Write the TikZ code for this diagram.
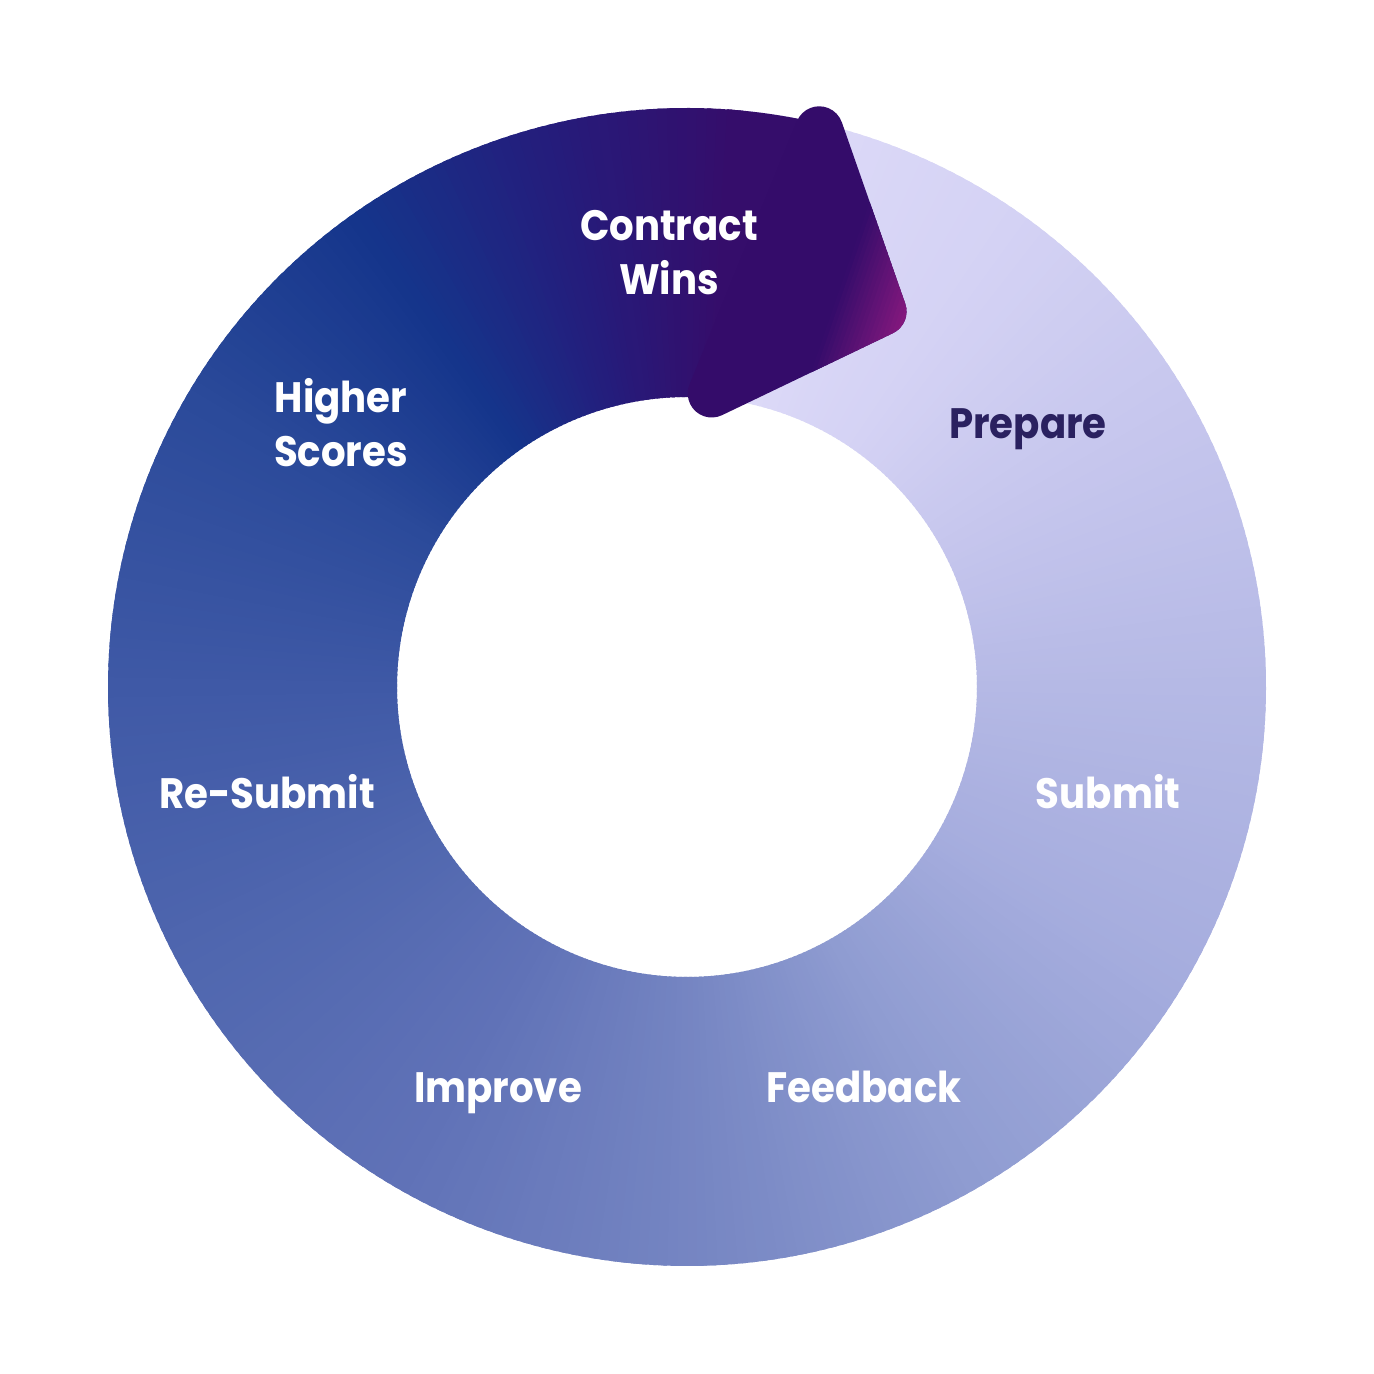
\documentclass[tikz,border=0pt]{standalone}
\usepackage{fontspec}
\setmainfont{Poppins}[FakeStretch=0.91]
\definecolor{s0}{HTML}{DFDCF9}
\definecolor{s1}{HTML}{D4D2F4}
\definecolor{s2}{HTML}{C1C2EB}
\definecolor{s3}{HTML}{B5B9E5}
\definecolor{s4}{HTML}{A6ADDE}
\definecolor{s5}{HTML}{8F9CD1}
\definecolor{s6}{HTML}{7585C2}
\definecolor{s7}{HTML}{6072B7}
\definecolor{s8}{HTML}{5067AF}
\definecolor{s9}{HTML}{3F59A6}
\definecolor{s10}{HTML}{2B4A9A}
\definecolor{s11}{HTML}{15358B}
\definecolor{s12}{HTML}{241D7C}
\definecolor{s13}{HTML}{350D6B}
\definecolor{arrowc}{HTML}{340C6A}
\definecolor{magc}{HTML}{8E1A80}
\definecolor{darktext}{HTML}{2A2160}
\tikzset{
  lbl/.style={font=\bfseries\fontsize{12.1}{15.4}\selectfont, text=white, inner sep=0pt, align=center},
  lbldark/.style={lbl, text=darktext}
}
\begin{document}
\begin{tikzpicture}
\useasboundingbox (0,0) rectangle (13.74,13.74);
\fill[white] (0,0) rectangle (13.74,13.74);
% ring with conic gradient
\begin{scope}[shift={(6.87,6.87)}]
\foreach \aa/\bb/\ca/\cb in {85/55/s0/s1, 55/20/s1/s2, 20/0/s2/s3, 0/-30/s3/s4, -30/-60/s4/s5, -60/-90/s5/s6, -90/-120/s6/s7, -120/-150/s7/s8, -150/-180/s8/s9, -180/-210/s9/s10, -210/-235/s10/s11, -235/-255/s11/s12, -255/-275/s12/s13} {
  \pgfmathtruncatemacro\nn{abs((\aa)-(\bb))}
  \foreach \k in {1,...,\nn} {
    \pgfmathsetmacro\sa{(\aa)-(\k-1)}
    \pgfmathsetmacro\ea{(\aa)-\k-0.6}
    \pgfmathsetmacro\pp{100*(\k-0.5)/\nn}
    \fill[\cb!\pp!\ca] (\sa:5.79) arc[start angle=\sa,end angle=\ea,radius=5.79] -- (\ea:2.9) arc[start angle=\ea,end angle=\sa,radius=2.9] -- cycle;
  }
}
\fill[s13] (76:5.79) arc[start angle=76,end angle=86,radius=5.79] -- (85.3:2.9) -- cycle;
\end{scope}
% arrow head
\def\arrowpath{(6.896,9.897) -- (7.970,12.528) arc[start angle=157.7,end angle=19.2,radius=0.24] -- (9.052,10.704) arc[start angle=19.3,end angle=-64.6,radius=0.24] -- (7.222,9.589) arc[start angle=-64.1,end angle=-202.6,radius=0.24] -- cycle}
\fill[arrowc] \arrowpath;
\begin{scope}
\clip \arrowpath;
\begin{scope}[shift={(9.123,10.501)}, rotate=-19]
\foreach \k in {0,...,19} {
  \pgfmathsetmacro\pp{100*(\k+0.5)/20}
  \fill[magc!\pp!arrowc] ({-0.8+0.04*\k},-2) rectangle ({-0.8+0.04*(\k+1)+0.02},2);
}
\end{scope}
\end{scope}
% labels
\node[lbl] (contract) at (6.69,11.21) {Contract\\Wins};
\node[lbl] (higher) at (3.41,9.51) {Higher\\Scores};
\node[lbldark, anchor=base] (prepare) at (10.28,9.35) {Prepare};
\node[lbl, anchor=base] (submit) at (11.08,5.65) {Submit};
\node[lbl, anchor=base] (resubmit) at (2.67,5.65) {Re-Submit};
\node[lbl, anchor=base] (improve) at (4.98,2.71) {Improve};
\node[lbl, anchor=base] (feedback) at (8.64,2.71) {Feedback};
\end{tikzpicture}
\end{document}
